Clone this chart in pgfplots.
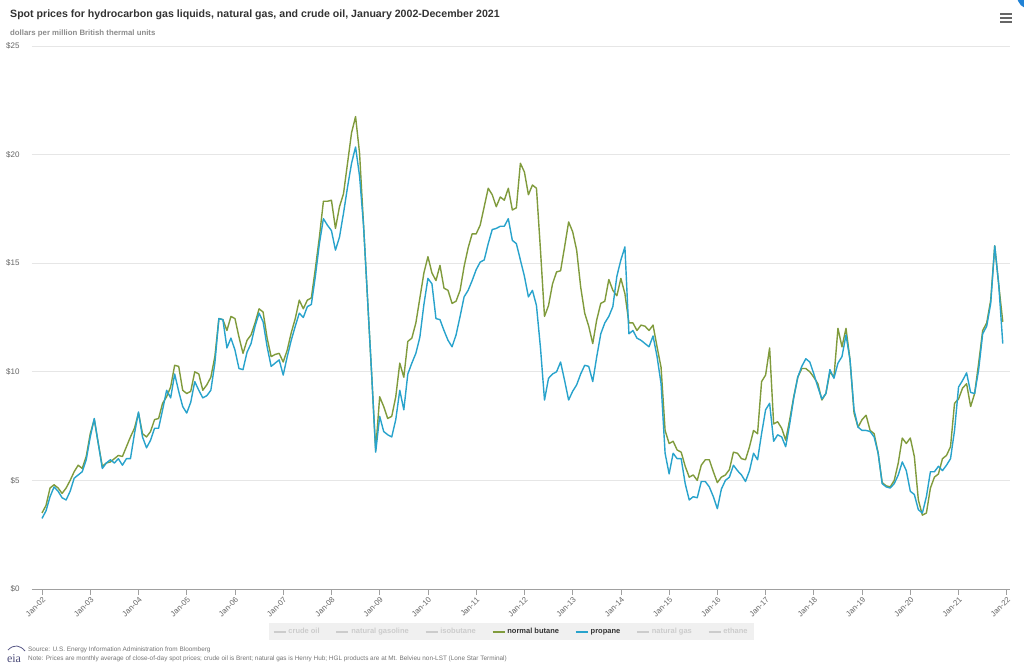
\documentclass[border=0pt]{standalone}
\usepackage{pgfplots}
\pgfplotsset{compat=1.18}
\usepackage{pgfplotstable}
\usepackage{fontspec}
\setmainfont{Liberation Sans}
\newfontfamily\logofont{Liberation Serif}
\definecolor{butane}{RGB}{128,155,60}
\definecolor{propane}{RGB}{40,163,204}
\definecolor{txtdark}{RGB}{51,51,51}
\definecolor{txtgray}{RGB}{102,102,102}
\definecolor{hidden}{RGB}{204,204,204}
\definecolor{gridc}{RGB}{230,230,230}
\definecolor{axisc}{RGB}{160,160,160}

% m = months since Jan 2002, values in dollars per MMBtu
\pgfplotstableread{
m b p
0 3.5 3.25
1 3.85 3.6
2 4.65 4.25
3 4.8 4.7
4 4.65 4.5
5 4.4 4.2
6 4.65 4.1
7 5.0 4.5
8 5.4 5.1
9 5.7 5.25
10 5.55 5.4
11 6.1 5.95
12 7.15 7.0
13 7.8 7.85
14 6.7 6.7
15 5.65 5.55
16 5.8 5.8
17 5.85 5.95
18 6.0 5.8
19 6.15 6.0
20 6.1 5.7
21 6.55 6.0
22 7.0 6.0
23 7.4 7.15
24 8.1 8.15
25 7.15 7.0
26 7.0 6.5
27 7.25 6.85
28 7.8 7.4
29 7.85 7.4
30 8.55 8.25
31 8.85 9.15
32 9.3 8.8
33 10.3 9.9
34 10.25 9.1
35 9.15 8.4
36 9.0 8.1
37 9.1 8.6
38 10.0 9.55
39 9.9 9.15
40 9.15 8.8
41 9.4 8.9
42 9.75 9.15
43 10.7 10.4
44 12.45 12.45
45 12.4 12.4
46 11.9 11.1
47 12.55 11.55
48 12.45 11.0
49 11.6 10.15
50 10.85 10.1
51 11.45 10.9
52 11.7 11.3
53 12.25 12.1
54 12.9 12.7
55 12.75 12.3
56 11.55 11.15
57 10.7 10.25
58 10.8 10.4
59 10.85 10.55
60 10.45 9.85
61 11.0 10.7
62 11.8 11.45
63 12.45 12.1
64 13.3 12.7
65 12.9 12.5
66 13.3 13.0
67 13.4 13.1
68 14.75 14.4
69 16.2 15.9
70 17.85 17.05
71 17.85 16.75
72 17.9 16.5
73 16.6 15.6
74 17.6 16.2
75 18.2 17.3
76 19.6 18.5
77 21.0 19.6
78 21.75 20.35
79 20.05 19.0
80 16.7 16.7
81 13.3 13.3
82 9.9 9.9
83 6.4 6.3
84 8.85 7.95
85 8.4 7.25
86 7.85 7.1
87 7.95 7.0
88 8.85 7.8
89 10.4 9.15
90 9.75 8.25
91 11.4 9.9
92 11.55 10.4
93 12.25 10.85
94 13.4 11.6
95 14.55 13.1
96 15.3 14.3
97 14.55 14.05
98 14.2 12.45
99 14.9 12.4
100 13.85 11.9
101 13.75 11.45
102 13.15 11.15
103 13.25 11.7
104 13.75 12.55
105 14.85 13.45
106 15.7 13.75
107 16.35 14.2
108 16.35 14.7
109 16.75 15.05
110 17.6 15.15
111 18.45 15.9
112 18.15 16.55
113 17.6 16.6
114 18.05 16.7
115 17.9 16.7
116 18.45 17.05
117 17.45 16.05
118 17.55 15.9
119 19.6 15.15
120 19.2 14.4
121 18.15 13.45
122 18.6 13.75
123 18.45 13.05
124 15.6 11.1
125 12.55 8.7
126 13.05 9.7
127 14.05 9.9
128 14.6 10.0
129 14.65 10.45
130 15.75 9.6
131 16.9 8.7
132 16.45 9.1
133 15.6 9.4
134 13.9 9.9
135 12.7 10.3
136 12.1 10.25
137 11.3 9.55
138 12.4 10.7
139 13.15 11.75
140 13.25 12.25
141 14.25 12.55
142 13.75 13.0
143 13.5 14.4
144 14.3 15.15
145 13.6 15.75
146 12.25 11.75
147 12.25 11.9
148 11.9 11.55
149 12.15 11.45
150 12.1 11.3
151 11.9 11.15
152 12.15 11.65
153 11.15 10.7
154 10.2 9.45
155 7.3 6.25
156 6.7 5.3
157 6.8 6.25
158 6.4 6.0
159 6.3 6.0
160 5.65 4.85
161 5.15 4.1
162 5.25 4.25
163 5.0 4.2
164 5.7 4.95
165 5.95 4.95
166 5.95 4.7
167 5.4 4.25
168 4.9 3.7
169 5.15 4.6
170 5.25 5.0
171 5.5 5.15
172 6.3 5.7
173 6.25 5.45
174 6.0 5.25
175 5.95 4.95
176 6.55 5.45
177 7.3 6.25
178 7.15 5.95
179 9.55 7.15
180 9.85 8.25
181 11.1 8.55
182 7.6 6.8
183 7.7 7.1
184 7.4 7.0
185 6.85 6.55
186 7.8 7.6
187 8.85 8.8
188 9.75 9.75
189 10.15 10.25
190 10.15 10.6
191 10.0 10.45
192 9.75 9.9
193 9.45 9.3
194 8.7 8.75
195 9.0 9.0
196 10.0 10.1
197 9.75 9.7
198 12.0 10.4
199 11.15 10.7
200 12.0 11.7
201 10.55 10.55
202 8.1 8.25
203 7.45 7.45
204 7.8 7.3
205 8.0 7.3
206 7.3 7.25
207 7.15 7.0
208 6.25 6.25
209 4.9 4.85
210 4.75 4.7
211 4.7 4.65
212 5.0 4.85
213 5.8 5.25
214 6.95 5.85
215 6.7 5.45
216 6.95 4.5
217 6.1 4.35
218 4.1 3.65
219 3.4 3.5
220 3.5 4.25
221 4.65 5.4
222 5.15 5.4
223 5.3 5.65
224 6.0 5.45
225 6.15 5.7
226 6.55 6.0
227 8.55 7.3
228 8.75 9.3
229 9.25 9.6
230 9.45 9.95
231 8.4 9.05
232 9.0 9.0
233 10.4 10.1
234 11.9 11.75
235 12.25 12.1
236 13.3 13.15
237 15.8 15.8
238 14.0 14.0
239 12.3 11.3
}\prices

\begin{document}
\begin{tikzpicture}[x=1pt,y=1pt]
\path[use as bounding box, fill=white] (0pt,0pt) rectangle (1024pt,666pt);

% title block
\node[anchor=west, font=\bfseries\fontsize{10.6}{12}\selectfont, text=txtdark, inner sep=0pt]
  at (10pt,651pt) {Spot prices for hydrocarbon gas liquids, natural gas, and crude oil, January 2002-December 2021};
\node[anchor=west, font=\bfseries\fontsize{7.8}{9}\selectfont, text=txtgray!75, inner sep=0pt]
  at (10pt,633pt) {dollars per million British thermal units};

% menu icon
\foreach \yy in {652,648,644} {\draw[txtgray, line width=1.2pt] (1000pt,\yy pt) -- (1012pt,\yy pt);}
\begin{scope}
\clip (0pt,0pt) rectangle (1024pt,666pt);
\fill[propane!80!blue] (1030pt,670pt) circle (13pt);
\end{scope}

\begin{axis}[
    at={(32pt,77pt)}, anchor=south west,
    scale only axis,
    width=978pt, height=543pt,
    xmin=-2.49, xmax=240.8,
    ymin=0, ymax=25,
    axis x line*=bottom,
    axis y line*=left,
    y axis line style={draw=none},
    x axis line style={draw=axisc, line width=0.9pt},
    ytick={0,5,10,15,20,25},
    yticklabels={\$0,\$5,\$10,\$15,\$20,\$25},
    major y tick style={draw=none},
    xtick={0,12,...,240},
    xticklabels={Jan-02,Jan-03,Jan-04,Jan-05,Jan-06,Jan-07,Jan-08,Jan-09,Jan-10,Jan-11,Jan-12,Jan-13,Jan-14,Jan-15,Jan-16,Jan-17,Jan-18,Jan-19,Jan-20,Jan-21,Jan-22},
    tick align=outside,
    major tick length=6pt,
    major x tick style={draw=axisc, line width=0.7pt},
    ymajorgrids=true,
    grid style={draw=gridc, line width=0.7pt},
    yticklabel style={font=\fontsize{8}{9}\selectfont, text=txtgray, anchor=east, xshift=-3pt},
    xticklabel style={font=\fontsize{7.8}{9}\selectfont, text=txtgray, rotate=45, anchor=north east, inner sep=1pt},
    legend columns=7,
    legend style={at={(axis description cs:0.49,-0.079)}, anchor=center,
        draw=none, fill=black!6,
        font=\bfseries\fontsize{7.5}{9}\selectfont,
        /tikz/every even column/.append style={column sep=14pt},
        inner xsep=4pt, inner ysep=3pt},
    legend image code/.code={\draw[#1, line width=1.6pt] (0pt,0pt) -- (12pt,0pt);},
]
\addlegendimage{hidden}
\addlegendentry{\textcolor{hidden}{crude oil}}
\addlegendimage{hidden}
\addlegendentry{\textcolor{hidden}{natural gasoline}}
\addlegendimage{hidden}
\addlegendentry{\textcolor{hidden}{isobutane}}
\addplot[butane, line width=1.4pt, line join=round] table[x=m, y=b] {\prices};
\addlegendentry{\textcolor{txtdark}{normal butane}}
\addplot[propane, line width=1.4pt, line join=round] table[x=m, y=p] {\prices};
\addlegendentry{\textcolor{txtdark}{propane}}
\addlegendimage{hidden}
\addlegendentry{\textcolor{hidden}{natural gas}}
\addlegendimage{hidden}
\addlegendentry{\textcolor{hidden}{ethane}}
\end{axis}

% source and note
\node[anchor=west, font=\fontsize{6.4}{7}\selectfont, text=txtgray!90, inner sep=0pt]
  at (28pt,16pt) {Source: U.S. Energy Information Administration from Bloomberg};
\node[anchor=west, font=\fontsize{6.4}{7}\selectfont, text=txtgray!90, inner sep=0pt]
  at (28pt,7pt) {Note: Prices are monthly average of close-of-day spot prices; crude oil is Brent; natural gas is Henry Hub; HGL products are at Mt. Belvieu non-LST (Lone Star Terminal)};
\node[font=\logofont\fontsize{12}{12}\selectfont, text=black!55!blue!40!gray, inner sep=0pt]
  at (14pt,7pt) {eia};
\draw[black!40!blue!30!gray, line width=0.8pt] (8pt,16pt) .. controls (14pt,22pt) and (20pt,21pt) .. (25pt,15pt);
\end{tikzpicture}
\end{document}
